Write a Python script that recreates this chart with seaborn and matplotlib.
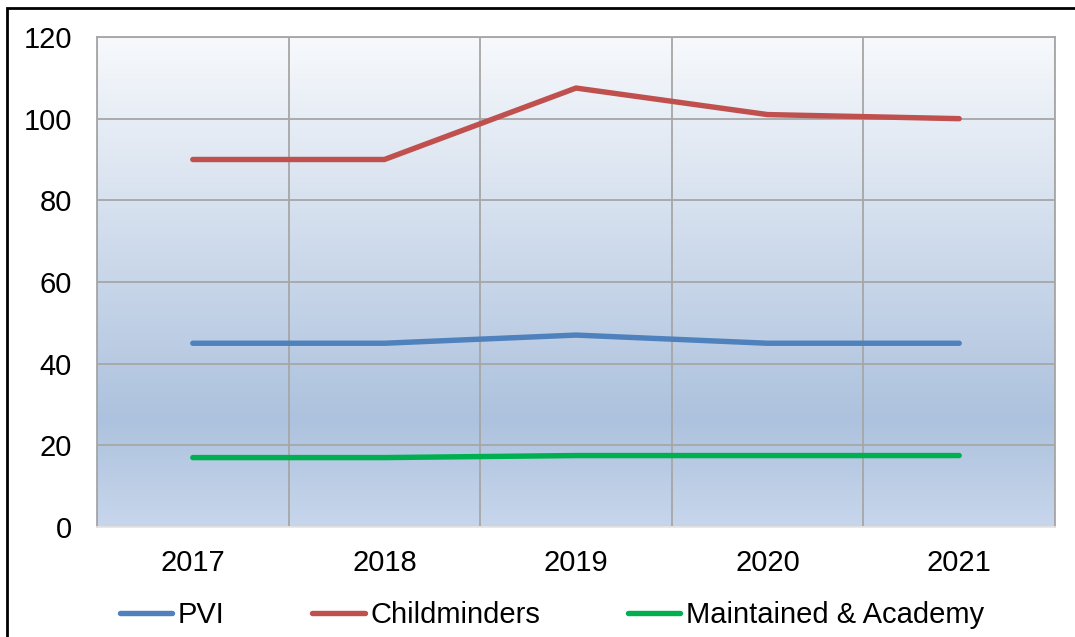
import numpy as np
import pandas as pd
import seaborn as sns
import matplotlib.pyplot as plt
from matplotlib import colors
from matplotlib.patches import Rectangle

sns.set_theme(style="white")
plt.rcParams["font.family"] = ["Liberation Sans", "DejaVu Sans"]
plt.rcParams["text.color"] = "black"

years = ["2017", "2018", "2019", "2020", "2021"]
pvi = [45, 45, 47, 45, 45]
childminders = [90, 90, 107.5, 101, 100]
maintained = [17, 17, 17.5, 17.5, 17.5]
series_names = ["PVI", "Childminders", "Maintained & Academy"]
palette = ["#4f81bd", "#c0504d", "#00b050"]

df = pd.DataFrame({"year": years * 3,
                   "value": pvi + childminders + maintained,
                   "series": np.repeat(series_names, len(years))})

fig = plt.figure(figsize=(10.75, 6.37), dpi=100)
ax = fig.add_axes([97 / 1075, 1 - 527 / 637, (1055 - 97) / 1075, (527 - 37) / 637])

# gradient plot area background, Excel style
cmap = colors.LinearSegmentedColormap.from_list(
    "bg", [(0, "#f7f9fc"), (0.78, "#adc2de"), (1.0, "#c7d6eb")])
grad = np.linspace(0, 1, 256).reshape(-1, 1)
ax.imshow(grad, cmap=cmap, aspect="auto", extent=(-0.5, 4.5, 0, 120),
          origin="upper", zorder=0)

sns.lineplot(data=df, x="year", y="value", hue="series", palette=palette,
             hue_order=series_names, linewidth=3.9, ax=ax, zorder=3,
             solid_capstyle="round", legend=False)

ax.set_xlim(-0.5, 4.5)
ax.set_ylim(0, 120)
ax.set_yticks(range(0, 121, 20))
ax.set_xticks(range(len(years)))
ax.set_xticklabels(years)
ax.set_xticks(np.arange(-0.5, 4.6, 1), minor=True)
ax.grid(False)
ax.grid(True, which="minor", axis="x", color="#a6a6a6", linewidth=1.3, zorder=1)
ax.grid(True, which="major", axis="y", color="#a6a6a6", linewidth=1.3, zorder=1)
ax.set_axisbelow(True)
ax.set_xlabel("")
ax.set_ylabel("")
ax.tick_params(axis="both", which="both", length=0, labelsize=21, colors="black")
ax.tick_params(axis="y", pad=18)
ax.tick_params(axis="x", pad=16)
for side in ["left", "right", "top"]:
    ax.spines[side].set_color("#a6a6a6")
    ax.spines[side].set_linewidth(1.3)
ax.spines["bottom"].set_color("#e6e6e6")
ax.spines["bottom"].set_linewidth(1.3)

handles = [plt.Line2D([0], [0], color=c, linewidth=3.9, solid_capstyle="round")
           for c in palette]
fig.legend(handles, series_names, loc="center", bbox_to_anchor=(552 / 1075, 1 - 615 / 637),
           ncol=3, frameon=False, fontsize=21, handlelength=1.8, labelcolor="black",
           handletextpad=0.2, columnspacing=3.0)

# chart outer border (right/bottom edges fall outside the image)
fig.patches.append(Rectangle((7 / 1075, -0.1), 1.2, 1.1 - 8 / 637, transform=fig.transFigure,
                             fill=False, edgecolor="black", linewidth=2, clip_on=False))

fig.savefig("out.png", dpi=100)
